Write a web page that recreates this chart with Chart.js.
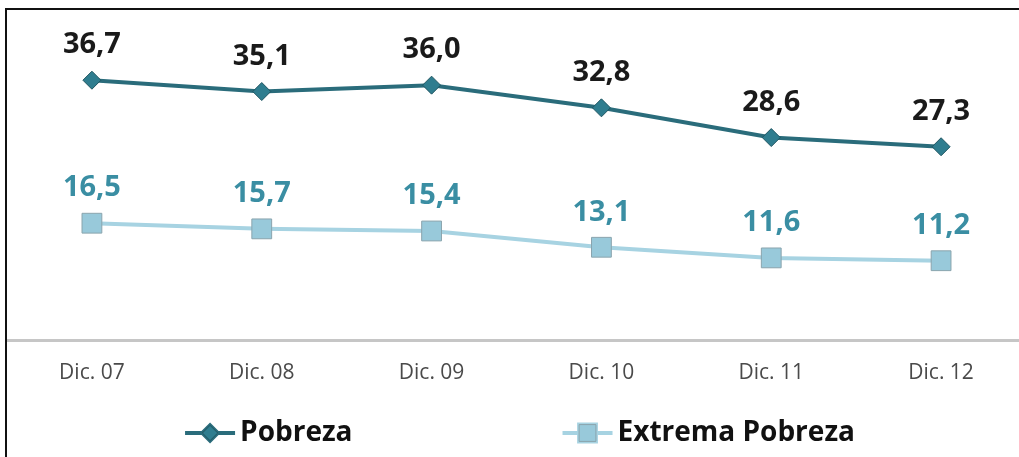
<!DOCTYPE html>
<html>
<head>
<meta charset="utf-8">
<script src="https://cdn.jsdelivr.net/npm/chart.js@4"></script>
<style>
    body { margin: 0; background: #fff; overflow: hidden; }
    #wrap { position: relative; width: 1026px; height: 457px; }
    #pobrezaChart { display: block; width: 1026px; height: 457px; }
    #frame {
        position: absolute; left: 5px; top: 8px; right: -10px; bottom: -10px;
        border-left: 2px solid #111; border-top: 2px solid #111;
        pointer-events: none;
    }
</style>
</head>
<body>
<div id="wrap">
    <canvas id="pobrezaChart" width="1026" height="457"></canvas>
    <div id="frame"></div>
</div>
<script>
const categorias = ['Dic. 07', 'Dic. 08', 'Dic. 09', 'Dic. 10', 'Dic. 11', 'Dic. 12'];
const pobreza = [36.7, 35.1, 36.0, 32.8, 28.6, 27.3];
const extremaPobreza = [16.5, 15.7, 15.4, 13.1, 11.6, 11.2];

const fmt = (v) => v.toFixed(1).replace('.', ',');

// etiquetas de datos encima de cada punto
const etiquetas = {
    id: 'etiquetas',
    afterDatasetsDraw(chart) {
        const ctx = chart.ctx;
        ctx.save();
        ctx.font = 'bold 29px "Open Sans"';
        ctx.textAlign = 'center';
        ctx.textBaseline = 'middle';
        chart.data.datasets.forEach((ds, i) => {
            ctx.fillStyle = ds.labelColor;
            chart.getDatasetMeta(i).data.forEach((pt, j) => {
                ctx.fillText(fmt(ds.data[j]), pt.x, pt.y - 35);
            });
        });
        ctx.restore();
    },
};

// leyenda con linea + marcador
const leyenda = {
    id: 'leyenda',
    afterDraw(chart) {
        const ctx = chart.ctx;
        const y = 433;
        const lineW = 50;
        const gap = 210;
        ctx.save();
        ctx.font = 'bold 28px "Open Sans"';
        const widths = chart.data.datasets.map((ds) => lineW + 5 + ctx.measureText(ds.label).width);
        const total = widths.reduce((a, b) => a + b, 0) + gap * (widths.length - 1);
        let x = 520 - total / 2;
        chart.data.datasets.forEach((ds, i) => {
            ctx.strokeStyle = ds.borderColor;
            ctx.lineWidth = ds.borderWidth;
            ctx.beginPath();
            ctx.moveTo(x, y);
            ctx.lineTo(x + lineW, y);
            ctx.stroke();
            Chart.helpers.drawPoint(ctx, {
                pointStyle: ds.pointStyle,
                radius: ds.pointRadius * 0.85,
                borderWidth: 1,
            }, x + lineW / 2, y);
            ctx.fillStyle = ds.pointBackgroundColor;
            ctx.strokeStyle = ds.pointBorderColor;
            ctx.lineWidth = 1;
            ctx.fill();
            ctx.stroke();
            ctx.fillStyle = '#111';
            ctx.textBaseline = 'middle';
            ctx.textAlign = 'left';
            ctx.fillText(ds.label, x + lineW + 5, y);
            x += widths[i] + gap;
        });
        ctx.restore();
    },
};

new Chart(document.getElementById('pobrezaChart'), {
    type: 'line',
    data: {
        labels: categorias,
        datasets: [
            {
                label: 'Pobreza',
                data: pobreza,
                borderColor: '#2a6c7b',
                borderWidth: 4,
                pointStyle: 'rectRot',
                pointRadius: 9,
                pointBackgroundColor: '#2f7d8f',
                pointBorderColor: '#1f5561',
                pointBorderWidth: 1,
                labelColor: '#1a1a1a',
            },
            {
                label: 'Extrema Pobreza',
                data: extremaPobreza,
                borderColor: '#a7d3e2',
                borderWidth: 4,
                pointStyle: 'rect',
                pointRadius: 14,
                pointBackgroundColor: '#98c9da',
                pointBorderColor: '#8aa4ad',
                pointBorderWidth: 1,
                labelColor: '#3a8ea3',
            },
        ],
    },
    plugins: [etiquetas, leyenda],
    options: {
        responsive: false,
        animation: false,
        layout: {
            autoPadding: false,
            padding: { top: 25, left: 7, right: 0, bottom: 57 },
        },
        plugins: {
            legend: { display: false },
            tooltip: { enabled: false },
        },
        scales: {
            x: {
                offset: true,
                grid: { display: false },
                border: { display: true, color: '#c6c6c6', width: 3 },
                ticks: {
                    color: '#4a4a4a',
                    font: { family: '"Open Sans"', size: 21 },
                    padding: 12,
                },
                afterFit(scale) {
                    scale.height = 60;
                    scale.paddingLeft = 0;
                    scale.paddingRight = 0;
                },
            },
            y: {
                display: false,
                min: 0,
                max: 44.5,
            },
        },
    },
});
</script>
</body>
</html>
